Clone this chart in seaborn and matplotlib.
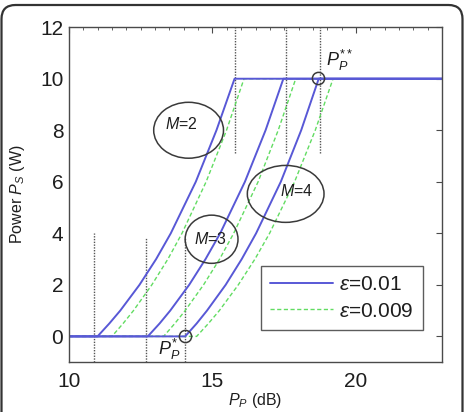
import numpy as np
import pandas as pd
import matplotlib
matplotlib.use("Agg")
import matplotlib.pyplot as plt
import seaborn as sns
from matplotlib.patches import Ellipse, FancyBboxPatch
from matplotlib.transforms import IdentityTransform
from matplotlib.ticker import MultipleLocator

# ---------------- data ----------------
ps_levels = [0, 0, 0.5, 1, 2, 3, 4, 6, 8, 10, 10]

pp_eps001_m2 = [10.0, 11.00, 11.41, 11.79, 12.46, 13.04, 13.55, 14.42, 15.14, 15.77, 23.0]
pp_eps001_m3 = [10.0, 12.75, 13.16, 13.53, 14.19, 14.76, 15.27, 16.13, 16.85, 17.47, 23.0]
pp_eps001_m4 = [10.0, 14.05, 14.45, 14.81, 15.46, 16.02, 16.52, 17.38, 18.09, 18.70, 23.0]

pp_eps0009_m2 = [10.0, 11.50, 11.89, 12.25, 12.89, 13.45, 13.94, 14.78, 15.49, 16.10, 23.0]
pp_eps0009_m3 = [10.0, 13.30, 13.69, 14.05, 14.69, 15.25, 15.74, 16.59, 17.29, 17.90, 23.0]
pp_eps0009_m4 = [10.0, 14.45, 14.86, 15.24, 15.90, 16.48, 16.99, 17.86, 18.58, 19.20, 23.0]

eps_labels = ["0.01", "0.009"]
m_values = [2, 3, 4]

# dotted vertical guide lines
vline_x = [10.87, 12.67, 14.03, 15.77, 17.57, 18.75]
vline_y0 = [-1, -1, -1, 7.1, 7.1, 7.1]
vline_y1 = [4.0, 3.85, 3.85, 12, 12, 12]

# ellipse annotations (center x, center y, width, height)
ell_cx = [14.17, 14.97, 17.55]
ell_cy = [8.0, 3.77, 5.53]
ell_w = [2.43, 1.84, 2.67]
ell_h = [2.17, 1.87, 2.21]
ell_text_x = [13.92, 14.93, 17.92]
ell_text_y = [8.25, 3.78, 5.65]

# marked points P_P* and P_P**
mark_x = [14.03, 18.68]
mark_y = [0.0, 10.02]

# ---------------- table ----------------
rows = []
curves = {
    ("0.01", 2): pp_eps001_m2, ("0.01", 3): pp_eps001_m3, ("0.01", 4): pp_eps001_m4,
    ("0.009", 2): pp_eps0009_m2, ("0.009", 3): pp_eps0009_m3, ("0.009", 4): pp_eps0009_m4,
}
for (eps, m), xs in curves.items():
    for i, (x, y) in enumerate(zip(xs, ps_levels)):
        rows.append({"Pp": x, "Ps": y, "eps": eps, "M": m, "order": i})
df = pd.DataFrame(rows)

# ---------------- style ----------------
sns.set_theme(style="white")
plt.rcParams["font.family"] = ["Liberation Sans", "DejaVu Sans"]
plt.rcParams["mathtext.fontset"] = "custom"
plt.rcParams["mathtext.rm"] = "Liberation Sans"
plt.rcParams["mathtext.it"] = "Liberation Sans:italic"
plt.rcParams["mathtext.bf"] = "Liberation Sans:bold"

blue = "#5858d6"
green = "#62dc62"
spine_c = "#4a4a4a"
text_c = "#1e1e1e"

fig = plt.figure(figsize=(4.65, 4.12), dpi=100)
ax = fig.add_axes([0.148, 0.121, 0.803, 0.813])

sns.lineplot(data=df[df.eps == "0.009"], x="Pp", y="Ps", units="M", estimator=None,
             sort=False, color=green, lw=1.0, linestyle=(0, (3, 1.8)), ax=ax, legend=False)
sns.lineplot(data=df[df.eps == "0.01"], x="Pp", y="Ps", units="M", estimator=None,
             sort=False, color=blue, lw=1.4, ax=ax, legend=False)

green_line = ax.lines[0]
blue_line = ax.lines[3]

ax.vlines(vline_x, vline_y0, vline_y1, colors="#555555", linestyles=(0, (1, 1)), lw=1.0, zorder=1)

for cx, cy, w, h in zip(ell_cx, ell_cy, ell_w, ell_h):
    ax.add_patch(Ellipse((cx, cy), w, h, fill=False, ec="#3a3a3a", lw=1.1, zorder=4))
for tx, ty, m in zip(ell_text_x, ell_text_y, m_values):
    ax.text(tx, ty, f"$M$={m}", fontsize=11.5, ha="center", va="center", color=text_c, zorder=5)

ax.plot(mark_x, mark_y, "o", ms=8.8, mfc="none", mec="#3a3a3a", mew=1.1, zorder=5)
ax.text(13.12, -0.74, r"$P_P^{*}$", fontsize=13, ha="left", va="baseline", color=text_c)
ax.text(18.95, 10.5, r"$P_P^{**}$", fontsize=13, ha="left", va="baseline", color=text_c)

ax.set_xlim(10, 23)
ax.set_ylim(-1, 12)
ax.set_xticks([10, 15, 20])
ax.xaxis.set_minor_locator(MultipleLocator(0.5))
ax.set_yticks([0, 2, 4, 6, 8, 10, 12])

ax.tick_params(axis="both", which="both", direction="in", top=True, right=True,
               colors=spine_c, labelcolor=text_c, labelsize=15)
ax.tick_params(axis="both", which="major", length=4, width=0.8)
ax.tick_params(axis="both", which="minor", length=2, width=0.6)
ax.tick_params(axis="x", which="major", pad=7)
ax.tick_params(axis="y", which="major", pad=4)

for s in ax.spines.values():
    s.set_color(spine_c)
    s.set_linewidth(1.0)

ax.set_xlabel("$P_P$ (dB)", fontsize=11.5, color=text_c, labelpad=0)
ax.set_ylabel("Power $P_S$ (W)", fontsize=11.5, color=text_c, labelpad=9)

leg = ax.legend([blue_line, green_line],
                [r"$\varepsilon$=" + eps_labels[0], r"$\varepsilon$=" + eps_labels[1]],
                loc="lower right", bbox_to_anchor=(0.949, 0.0955), fontsize=15,
                frameon=True, fancybox=False, handlelength=3.0, handletextpad=0.3,
                borderpad=0.45, labelspacing=0.35, borderaxespad=0)
leg.get_frame().set_edgecolor("#333333")
leg.get_frame().set_linewidth(1.0)
for t in leg.get_texts():
    t.set_color(text_c)

border = FancyBboxPatch((1.5, -40), 461, 447, boxstyle="round,pad=0,rounding_size=14",
                        transform=IdentityTransform(), fill=False, ec="#333333", lw=1.6)
fig.add_artist(border)

fig.savefig("out.png", dpi=100)
